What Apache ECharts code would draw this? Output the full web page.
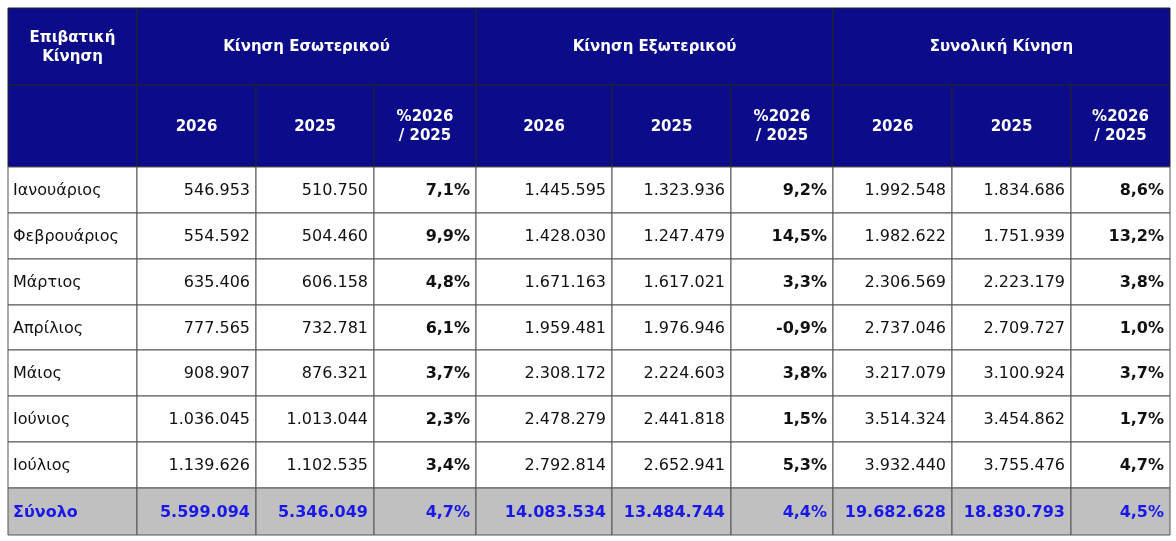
<!DOCTYPE html>
<html><head><meta charset="utf-8">
<script src="https://cdn.jsdelivr.net/npm/echarts@6/dist/echarts.min.js"></script>
<style>html,body{margin:0;background:#fff}#chart{width:1176px;height:541px}</style>
</head><body><div id="chart"></div>
<script>
// data
var months = ['Ιανουάριος', 'Φεβρουάριος', 'Μάρτιος', 'Απρίλιος', 'Μάιος', 'Ιούνιος', 'Ιούλιος'];
var dom2026 = [546953, 554592, 635406, 777565, 908907, 1036045, 1139626];
var dom2025 = [510750, 504460, 606158, 732781, 876321, 1013044, 1102535];
var domPct = [7.1, 9.9, 4.8, 6.1, 3.7, 2.3, 3.4];
var int2026 = [1445595, 1428030, 1671163, 1959481, 2308172, 2478279, 2792814];
var int2025 = [1323936, 1247479, 1617021, 1976946, 2224603, 2441818, 2652941];
var intPct = [9.2, 14.5, 3.3, -0.9, 3.8, 1.5, 5.3];
var tot2026 = [1992548, 1982622, 2306569, 2737046, 3217079, 3514324, 3932440];
var tot2025 = [1834686, 1751939, 2223179, 2709727, 3100924, 3454862, 3755476];
var totPct = [8.6, 13.2, 3.8, 1.0, 3.7, 1.7, 4.7];
var totalLabel = 'Σύνολο';
var totalRow = [5599094, 5346049, 4.7, 14083534, 13484744, 4.4, 19682628, 18830793, 4.5];
var groupHeaders = ['Κίνηση Εσωτερικού', 'Κίνηση Εξωτερικού', 'Συνολική Κίνηση'];
var subHeaders = ['2026', '2025', '%2026\n/ 2025'];
var cornerHeader = 'Επιβατική\nΚίνηση';

// layout edges (table units)
var colEdges = [0, 129, 248, 366, 468, 604, 723, 825, 944, 1063, 1162];
var rowEdges = [0, 77, 159, 205, 251, 297, 342, 388, 434, 480, 527];

function num(n) { return String(n).replace(/\B(?=(\d{3})+(?!\d))/g, '.'); }
function pct(p) { return p.toFixed(1).replace('.', ',') + '%'; }

var NAVY = '#0c0c8a';
var cells = [];
function cell(c0, c1, r0, r1, text, kind) {
    cells.push([colEdges[c0], colEdges[c1], rowEdges[r0], rowEdges[r1], text, kind]);
}
cell(0, 1, 0, 1, cornerHeader, 'head');
cell(0, 1, 1, 2, '', 'head');
for (var g = 0; g < 3; g++) {
    cell(1 + g * 3, 4 + g * 3, 0, 1, groupHeaders[g], 'head');
    for (var s = 0; s < 3; s++) cell(1 + g * 3 + s, 2 + g * 3 + s, 1, 2, subHeaders[s], 'head');
}
var cols = [dom2026, dom2025, domPct, int2026, int2025, intPct, tot2026, tot2025, totPct];
for (var r = 0; r < months.length; r++) {
    cell(0, 1, r + 2, r + 3, months[r], 'label');
    for (var c = 0; c < 9; c++) {
        var isP = c % 3 == 2;
        cell(c + 1, c + 2, r + 2, r + 3, isP ? pct(cols[c][r]) : num(cols[c][r]), isP ? 'pct' : 'num');
    }
}
cell(0, 1, 9, 10, totalLabel, 'totlabel');
for (var c = 0; c < 9; c++) {
    cell(c + 1, c + 2, 9, 10, c % 3 == 2 ? pct(totalRow[c]) : num(totalRow[c]), 'tot');
}

var chart = echarts.init(document.getElementById('chart'));
chart.setOption({
    animation: false,
    grid: {left: 8, right: 6, top: 8, bottom: 6},
    xAxis: {type: 'value', min: 0, max: 1162, show: false},
    yAxis: {type: 'value', min: 0, max: 527, inverse: true, show: false},
    series: [{
        type: 'custom',
        data: cells,
        renderItem: function (params, api) {
            var d = cells[params.dataIndex];
            var p0 = api.coord([d[0], d[2]]), p1 = api.coord([d[1], d[3]]);
            var x = p0[0], y = p0[1], w = p1[0] - p0[0], h = p1[1] - p0[1];
            var kind = d[5];
            var fill = kind == 'head' ? NAVY : (kind == 'tot' || kind == 'totlabel') ? '#c0c0c0' : '#fff';
            var color = kind == 'head' ? '#fff' : (kind == 'tot' || kind == 'totlabel') ? '#1818e8' : '#111';
            var bold = kind == 'head' || kind == 'pct' || kind == 'tot' || kind == 'totlabel';
            var align = kind == 'head' ? 'center' : (kind == 'label' || kind == 'totlabel') ? 'left' : 'right';
            var tx = align == 'center' ? x + w / 2 : align == 'left' ? x + 5 : x + w - 6;
            return {
                type: 'group',
                children: [{
                    type: 'rect',
                    shape: {x: x, y: y, width: w, height: h},
                    style: {fill: fill, stroke: kind == 'head' ? '#222' : '#555', lineWidth: 1}
                }, {
                    type: 'text',
                    style: {
                        x: tx, y: y + h / 2 + 1, text: d[4], fill: color,
                        align: align, verticalAlign: 'middle',
                        font: (bold ? 'bold ' : '') + (kind == 'head' ? '15px' : '16px') + ' "DejaVu Sans", Verdana, sans-serif',
                        lineHeight: 19
                    }
                }]
            };
        }
    }]
});
</script>
</body></html>
